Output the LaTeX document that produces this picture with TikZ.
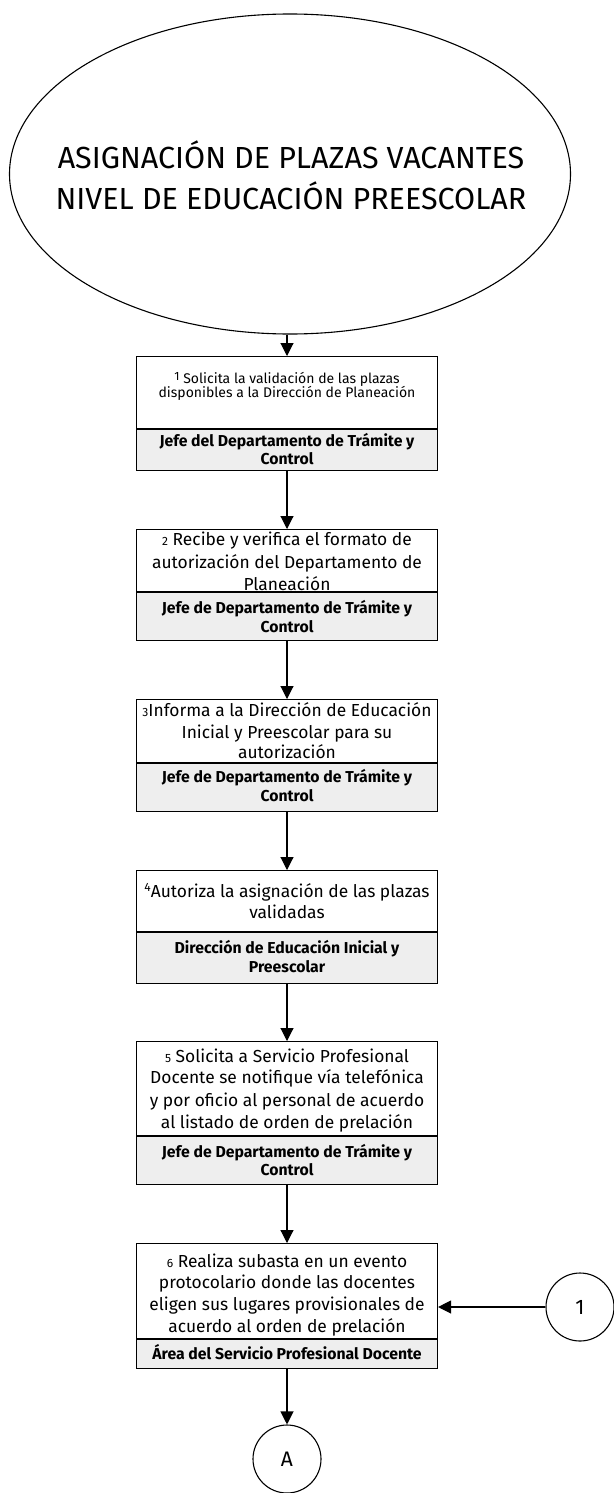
\documentclass[tikz,border=0pt]{standalone}
\usepackage{fontspec}
\setmainfont{Fira Sans}
\usetikzlibrary{arrows.meta,shapes.geometric}
\newcommand{\stepno}[1]{{\fontsize{12}{12}\selectfont #1}}
\begin{document}
\begin{tikzpicture}[x=1pt,y=-1pt,
  box/.style={draw, line width=1.1pt, minimum width=301pt, inner sep=0, anchor=north},
  role/.style={box, fill=gray!13},
  body/.style={anchor=base, inner sep=0, font=\fontsize{17.4}{17.4}\selectfont},
  small/.style={anchor=base, inner sep=0, font=\fontsize{14}{14}\selectfont},
  who/.style={anchor=base, inner sep=0, font=\bfseries\fontsize{15.8}{15.8}\selectfont},
  arr/.style={line width=1.1pt, -{Triangle[width=13pt,length=13pt]}},
  conn/.style={draw, circle, line width=1.1pt, minimum size=68pt, inner sep=0, font=\fontsize{21}{21}\selectfont}]

\useasboundingbox (0,0) rectangle (613,1493);

% title
\node[draw, ellipse, line width=1.1pt, minimum width=561pt, minimum height=320pt, inner sep=0] (title) at (290,174) {};
\node[anchor=base, inner sep=0, font=\fontsize{30.5}{30.5}\selectfont] (t1) at (291,168) {ASIGNACIÓN DE PLAZAS VACANTES};
\node[anchor=base, inner sep=0, font=\fontsize{30.5}{30.5}\selectfont] (t2) at (291,209) {NIVEL DE EDUCACIÓN PREESCOLAR};

% step 1
\node[box, minimum height=72pt] (s1) at (287,356) {};
\node[role, minimum height=41pt] (r1) at (s1.south) {};
\node[small] (s1a) at (287,383) {\raisebox{3pt}{\stepno{1}} Solicita la validación de las plazas};
\node[small] (s1b) at (287,397) {disponibles a la Dirección de Planeación};
\node[who] (r1a) at (287,446) {Jefe del Departamento de Trámite y};
\node[who] (r1b) at (287,464) {Control};

% step 2
\node[box, minimum height=62pt] (s2) at (287,529) {};
\node[role, minimum height=48pt] (r2) at (s2.south) {};
\node[body] (s2a) at (287,545) {\stepno{2} Recibe y verifica el formato de};
\node[body] (s2b) at (287,568) {autorización del Departamento de};
\node[body] (s2c) at (287,590) {Planeación};
\node[who] (r2a) at (287,613) {Jefe de Departamento de Trámite y};
\node[who] (r2b) at (287,632) {Control};

% step 3
\node[box, minimum height=63pt] (s3) at (287,699) {};
\node[role, minimum height=48pt] (r3) at (s3.south) {};
\node[body] (s3a) at (287,716) {\stepno{3}Informa a la Dirección de Educación};
\node[body] (s3b) at (287,738) {Inicial y Preescolar para su};
\node[body] (s3c) at (287,758) {autorización};
\node[who] (r3a) at (287,782) {Jefe de Departamento de Trámite y};
\node[who] (r3b) at (287,801) {Control};

% step 4
\node[box, minimum height=61pt] (s4) at (287,870) {};
\node[role, minimum height=51pt] (r4) at (s4.south) {};
\node[body] (s4a) at (287,897) {\raisebox{6pt}{\stepno{4}}Autoriza la asignación de las plazas};
\node[body] (s4b) at (287,918) {validadas};
\node[who] (r4a) at (287,953) {Dirección de Educación Inicial y};
\node[who] (r4b) at (287,972) {Preescolar};

% step 5
\node[box, minimum height=94pt] (s5) at (287,1041) {};
\node[role, minimum height=48pt] (r5) at (s5.south) {};
\node[body] (s5a) at (287,1062) {\stepno{5} Solicita a Servicio Profesional};
\node[body] (s5b) at (287,1083) {Docente se notifique vía telefónica};
\node[body] (s5c) at (287,1106) {y por oficio al personal de acuerdo};
\node[body] (s5d) at (287,1128) {al listado de orden de prelación};
\node[who] (r5a) at (287,1157) {Jefe de Departamento de Trámite y};
\node[who] (r5b) at (287,1175) {Control};

% step 6
\node[box, minimum height=95pt] (s6) at (287,1243) {};
\node[role, minimum height=29pt] (r6) at (s6.south) {};
\node[body] (s6a) at (287,1267) {\stepno{6} Realiza subasta en un evento};
\node[body] (s6b) at (287,1288) {protocolario donde las docentes};
\node[body] (s6c) at (287,1310) {eligen sus lugares provisionales de};
\node[body] (s6d) at (287,1332) {acuerdo al orden de prelación};
\node[who] (r6a) at (287,1359) {Área del Servicio Profesional Docente};

% connectors
\node[conn] (c1) at (580,1307) {1};
\node[conn] (cA) at (287,1459) {A};

\draw[arr] (s1.north |- title.south) -- (s1.north);
\draw[arr] (r1.south) -- (s2.north);
\draw[arr] (r2.south) -- (s3.north);
\draw[arr] (r3.south) -- (s4.north);
\draw[arr] (r4.south) -- (s5.north);
\draw[arr] (r5.south) -- (s6.north);
\draw[arr] (c1.west) -- (c1.west -| s6.east);
\draw[arr] (r6.south) -- (cA.north);
\end{tikzpicture}
\end{document}
